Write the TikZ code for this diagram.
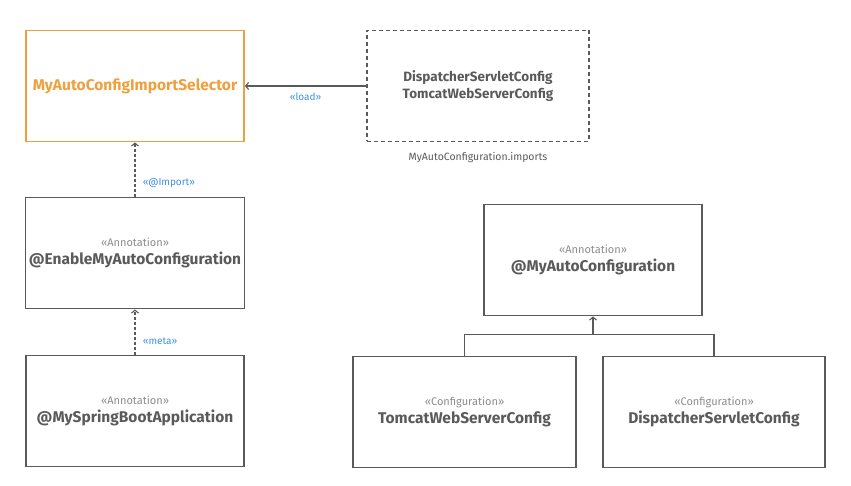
\documentclass[tikz,border=0pt]{standalone}
\usepackage{fontspec}
\setmainfont{Fira Sans}
\usepackage{tikz}
\usetikzlibrary{positioning}
\usetikzlibrary{arrows.meta}

\definecolor{boxgray}{HTML}{5A5A5A}
\definecolor{selorange}{HTML}{EFA03E}
\definecolor{relblue}{HTML}{3E8EE4}
\definecolor{stereogray}{HTML}{8C8C8C}

\newcommand{\stereo}[1]{{\fontsize{11}{13}\selectfont\mdseries\color{stereogray}«#1»}}

\tikzset{
	classbox/.style={draw=boxgray, line width=1.8pt, minimum width=218pt, minimum height=111pt,
		align=center, text=boxgray, font=\bfseries\fontsize{15.5}{18}\selectfont},
	relline/.style={draw=boxgray, line width=1.1pt, -{Straight Barb[length=3pt,width=7pt]}},
	rellabel/.style={text=relblue, font=\fontsize{10}{12}\selectfont},
}

\begin{document}
\begin{tikzpicture}[x=1pt, y=1pt]
		
		% ---------------------
		% Proper size --- Bounding box
		\useasboundingbox (0,0) rectangle (851,485);
		
		% ---------------------
		% Left column & file box
		
		\coordinate (Top) at (135,399);
		
		\path (Top) +(343,0) coordinate (FileC);
		\path (Top) +(0,-167) coordinate (EnableC);
		\path (EnableC) +(0,-158) coordinate (AppC);
		
		\node[classbox, draw=selorange, text=selorange] (Selector) at (Top) {MyAutoConfigImportSelector};
		\node[classbox, minimum width=222pt, dash pattern=on 4pt off 3pt, font=\bfseries\fontsize{13.5}{17}\selectfont] (Imports) at (FileC) {DispatcherServletConfig\\TomcatWebServerConfig};
		\node[below=6pt of Imports, text=boxgray, font=\fontsize{10.5}{12}\selectfont] (ImportsFile) {MyAutoConfiguration.imports};
		
		\node[classbox] (Enable) at (EnableC) {\stereo{Annotation}\\@EnableMyAutoConfiguration};
		\node[classbox] (App) at (AppC) {\stereo{Annotation}\\@MySpringBootApplication};
		
		% ---------------------
		% Right group
		
		\coordinate (AutoC) at (593,225);
		
		\path (AutoC) +(-128.5,-152) coordinate (TomcatC);
		\path (AutoC) +(121,-152) coordinate (DispatchC);
		
		\node[classbox] (MyAuto) at (AutoC) {\stereo{Annotation}\\@MyAutoConfiguration};
		\node[classbox, minimum width=223pt] (Tomcat) at (TomcatC) {\stereo{Configuration}\\TomcatWebServerConfig};
		\node[classbox, minimum width=222pt] (Dispatch) at (DispatchC) {\stereo{Configuration}\\DispatcherServletConfig};
		
		\path (MyAuto.south) +(0,-18) coordinate (Join);
		
		% ---------------------
		\draw[relline] (Imports.west) -- node[rellabel, below=3pt] (Load) {«load»} (Selector.east);
		\draw[relline, dash pattern=on 3pt off 2pt] (Enable.north) -- node[rellabel, pos=0.25, right=4pt] (Import) {«@Import»} (Selector.south);
		\draw[relline, dash pattern=on 3pt off 2pt] (App.north) -- node[rellabel, pos=0.3, right=4pt] (Meta) {«meta»} (Enable.south);
		
		\draw[draw=boxgray, line width=1.1pt] (Tomcat.north) |- (Join) -| (Dispatch.north);
		\draw[relline] (Join) -- (MyAuto.south);
		
\end{tikzpicture}
\end{document}
